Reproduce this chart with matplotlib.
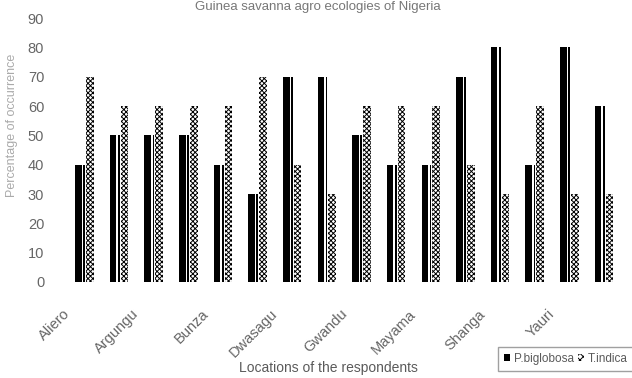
import matplotlib
matplotlib.use('Agg')
import matplotlib.pyplot as plt
from matplotlib.patches import Patch
import numpy as np

plt.rcParams.update({
    'font.family': ['Liberation Sans', 'DejaVu Sans'],
    'hatch.linewidth': 0.7,
    'hatch.color': 'black',
})

# data
locations = ['Aliero', 'Argungu', 'Bunza', 'Dwasagu', 'Gwandu', 'Mayama', 'Shanga', 'Yauri']
p_biglobosa = [40, 50, 50, 50, 40, 30, 70, 70, 50, 40, 40, 70, 80, 40, 80, 60]
t_indica = [70, 60, 60, 60, 60, 70, 40, 30, 60, 60, 60, 40, 30, 60, 30, 30]
yticks = list(range(0, 100, 10))

x = np.arange(len(p_biglobosa))
txt = '#5a5a5a'

fig = plt.figure(figsize=(6.32, 3.78), dpi=100)
ax = fig.add_axes([0.0744, 0.254, 0.911, 0.698])

# P. biglobosa: solid black strip plus a thin black edge line
ax.bar(x - 0.26, p_biglobosa, width=0.19, align='edge', color='black', lw=0)
ax.bar(x - 0.025, p_biglobosa, width=0.05, align='edge', color='black', lw=0)
# T. indica: dense patterned bar
ax.bar(x + 0.055, t_indica, width=0.22, align='edge', facecolor='white',
       edgecolor='black', lw=0, hatch='xxxxxxx')

ax.set_xlim(-1.07, 15.55)
ax.set_ylim(0, 90)
ax.set_yticks(yticks)
ax.tick_params(axis='y', length=0, pad=2, labelsize=10.5, labelcolor='#666666')
ax.set_xticks(x[::2] - 0.62)
ax.set_xticklabels(locations)
ax.tick_params(axis='x', length=0, pad=18, labelsize=10.5, labelcolor='#666666')
plt.setp(ax.get_xticklabels(), rotation=45, ha='right', va='top',
         rotation_mode='anchor')
for s in ax.spines.values():
    s.set_visible(False)

fig.text(318 / 632, 1 - 10 / 378, 'Guinea savanna agro ecologies of Nigeria',
         ha='center', va='baseline', fontsize=9.5, color='#777777')
fig.text(328 / 632, 1 - 368 / 378, 'Locations of the respondents',
         ha='center', va='center', fontsize=10, color=txt)
fig.text(12 / 632, 1 - 125 / 378, 'Percentage of occurrence',
         ha='center', va='center', rotation=90, fontsize=9, color='#aaaaaa')

handles = [
    Patch(facecolor='black', edgecolor='black', lw=0, label='P.biglobosa'),
    Patch(facecolor='white', edgecolor='black', lw=0, hatch='xxxxx', label='T.indica'),
]
fig.legend(handles=handles, loc='center', bbox_to_anchor=(566 / 632, 1 - 359 / 378),
           ncol=2, fontsize=8.5, frameon=True, edgecolor='#888888', fancybox=False,
           handlelength=0.5, handleheight=0.5, handletextpad=0.3, columnspacing=0.4,
           borderpad=0.55, borderaxespad=0, labelcolor=txt)

fig.savefig('out.png', dpi=100)
